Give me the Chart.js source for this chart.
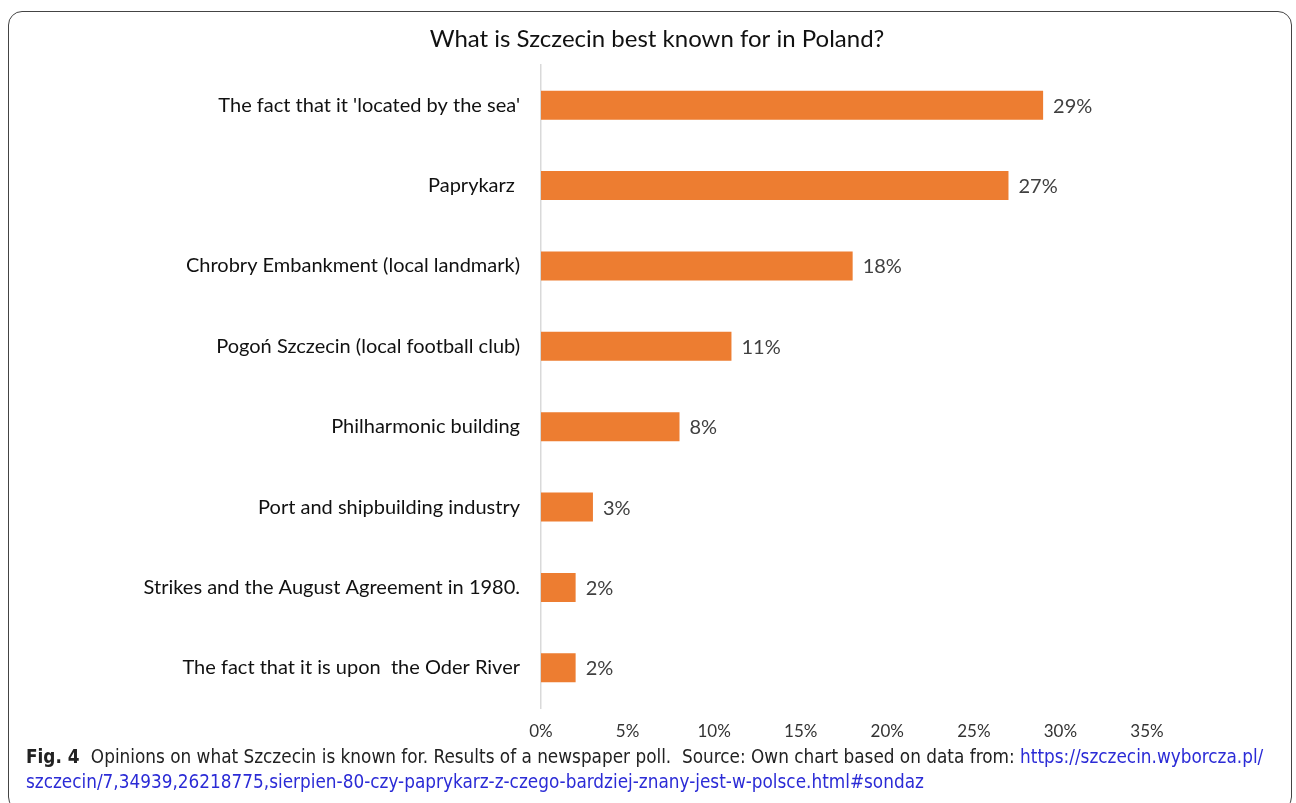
<!DOCTYPE html>
<html>
<head>
<meta charset="utf-8">
<script src="https://cdn.jsdelivr.net/npm/chart.js@4"></script>
<style>
  body { margin: 0; background: #fff; width: 1296px; height: 803px; overflow: hidden; position: relative; }
  #frame { position: absolute; left: 8px; top: 11px; width: 1284px; height: 800px; border: 1.5px solid #444; border-radius: 14px; box-sizing: border-box; }
  #wrap { position: absolute; left: 0; top: 0; width: 1296px; height: 750px; }
  #caption { position: absolute; left: 26px; top: 744px; width: 1262px; font-family: "Liberation Sans Narrow", "DejaVu Sans Condensed", sans-serif; font-size: 18.8px; line-height: 25px; color: #222; }
  #caption b { font-weight: bold; margin-right: 6px; }
  #caption a { color: #2b2bd6; text-decoration: none; }
</style>
</head>
<body>
<div id="frame"></div>
<div id="wrap"><canvas id="chart"></canvas></div>
<div id="caption"><b>Fig. 4</b> Opinions on what Szczecin is known for. Results of a newspaper poll.&nbsp; Source: Own chart based on data from: <a>https://szczecin.wyborcza.pl/ szczecin/7,34939,26218775,sierpien-80-czy-paprykarz-z-czego-bardziej-znany-jest-w-polsce.html#sondaz</a></div>
<script>
// dati
const categories = [
  "The fact that it 'located by the sea'",
  "Paprykarz ",
  "Chrobry Embankment (local landmark)",
  "Pogoń Szczecin (local football club)",
  "Philharmonic building",
  "Port and shipbuilding industry",
  "Strikes and the August Agreement in 1980.",
  "The fact that it is upon  the Oder River"
];
const values = [29, 27, 18, 11, 8, 3, 2, 2];
const xTicks = [0, 5, 10, 15, 20, 25, 30, 35];
const chartTitle = "What is Szczecin best known for in Poland?";

const FONT = "Lato, 'Open Sans', sans-serif";

// titolo centrato sul riquadro, non sull'area del grafico
const titlePlugin = {
  id: "titlePlugin",
  afterDraw(chart) {
    const ctx = chart.ctx;
    ctx.save();
    ctx.font = "24px " + FONT;
    ctx.fillStyle = "#111";
    ctx.textAlign = "center";
    ctx.textBaseline = "middle";
    ctx.fillText(chartTitle, 657, 39);
    ctx.restore();
  }
};

// etichette valore a fine barra
const valueLabels = {
  id: "valueLabels",
  afterDatasetsDraw(chart) {
    const ctx = chart.ctx;
    const meta = chart.getDatasetMeta(0);
    ctx.save();
    ctx.font = "20px " + FONT;
    ctx.fillStyle = "#404040";
    ctx.textAlign = "left";
    ctx.textBaseline = "middle";
    meta.data.forEach((bar, i) => {
      ctx.fillText(values[i] + "%", bar.x + 10, bar.y + 1);
    });
    ctx.restore();
  }
};

const ctx = document.getElementById("chart").getContext("2d");
const chart = new Chart(ctx, {
  type: "bar",
  data: {
    labels: categories,
    datasets: [{
      data: values,
      backgroundColor: "#ED7D31",
      borderWidth: 0,
      categoryPercentage: 1,
      barPercentage: 0.36
    }]
  },
  options: {
    indexAxis: "y",
    responsive: true,
    maintainAspectRatio: false,
    animation: false,
    layout: { padding: { left: 0, right: 149, top: 65, bottom: 0 } },
    plugins: {
      legend: { display: false },
      tooltip: { enabled: false },
      title: { display: false }
    },
    scales: {
      x: {
        min: 0,
        max: 35,
        afterBuildTicks: s => { s.ticks = xTicks.map(v => ({ value: v })); },
        afterFit: s => { s.height = 42; },
        grid: { display: false, drawTicks: false },
        border: { display: false },
        ticks: {
          color: "#333",
          font: { family: FONT, size: 17 },
          padding: 13,
          maxRotation: 0,
          callback: v => v + "%"
        }
      },
      y: {
        afterFit: s => { s.width = 541; },
        grid: { display: false, drawTicks: false },
        border: { display: true, color: "#d9d9d9", width: 1.5 },
        ticks: {
          color: "#111",
          font: { family: FONT, size: 20 },
          padding: 21
        }
      }
    }
  },
  plugins: [valueLabels, titlePlugin]
});
</script>
</body>
</html>
